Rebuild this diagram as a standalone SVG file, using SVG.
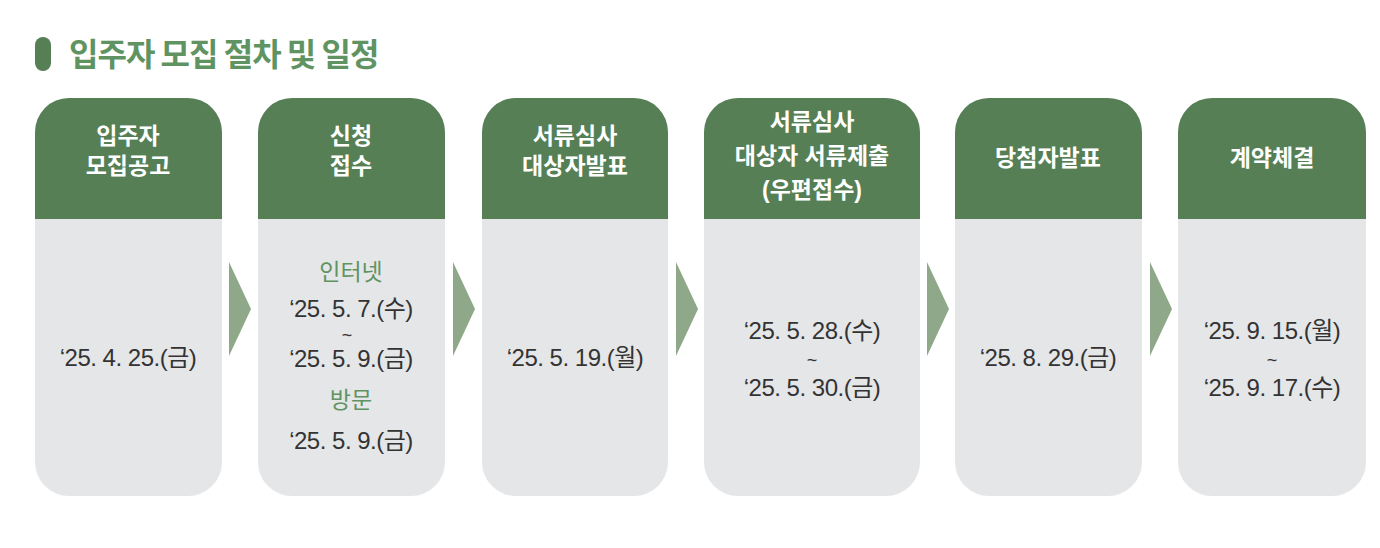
<svg xmlns="http://www.w3.org/2000/svg" width="1380" height="548" viewBox="0 0 1380 548">
<defs>
<style>
.hd{fill:#567f55}
.bd{fill:#e5e6e8}
.ar{fill:#8fa889}
.ht{font-family:"Liberation Sans","Noto Sans CJK KR",sans-serif;font-size:23px;font-weight:bold;fill:#fff;text-anchor:middle}
.dt{font-family:"Liberation Sans","Noto Sans CJK KR",sans-serif;font-size:24px;fill:#333;text-anchor:middle;letter-spacing:-0.5px}
.tl{font-family:"Liberation Sans","Noto Sans CJK KR",sans-serif;font-size:18px;fill:#333;text-anchor:middle}
.gt{font-family:"Liberation Sans","Noto Sans CJK KR",sans-serif;font-size:23px;fill:#5f9462;text-anchor:middle}
</style>
</defs>
<rect width="1380" height="548" fill="#fff"/>
<g id="title">
<rect x="35" y="37" width="16" height="34" rx="8" fill="#567f55"/>
<text x="69" y="66" font-family="'Noto Sans CJK KR',sans-serif" font-size="32" font-weight="bold" fill="#5f9462" letter-spacing="-1">입주자 모집 절차 및 일정</text>
</g>
<g id="n1">
<rect x="35" y="98" width="187" height="398" rx="34" class="bd"/>
<path d="M35 219V132a34 34 0 0 1 34-34h119a34 34 0 0 1 34 34v87z" class="hd"/>
<text x="128" y="144" class="ht">입주자</text><text x="128" y="174" class="ht">모집공고</text>
<text x="128" y="366" class="dt">‘25. 4. 25.(금)</text>
</g>
<g id="n2">
<rect x="258" y="98" width="187" height="398" rx="34" class="bd"/>
<path d="M258 219V132a34 34 0 0 1 34-34h119a34 34 0 0 1 34 34v87z" class="hd"/>
<text x="351" y="280" class="gt">인터넷</text>
<text x="351" y="144" class="ht">신청</text><text x="351" y="174" class="ht">접수</text>
<text x="351" y="317" class="dt">‘25. 5. 7.(수)</text>
<text x="347" y="341" class="tl">~</text>
<text x="351" y="367" class="dt">‘25. 5. 9.(금)</text>
<text x="351" y="408" class="gt">방문</text>
<text x="351" y="449" class="dt">‘25. 5. 9.(금)</text>
</g>
<g id="n3">
<rect x="482" y="98" width="186" height="398" rx="34" class="bd"/>
<path d="M482 219V132a34 34 0 0 1 34-34h118a34 34 0 0 1 34 34v87z" class="hd"/>
<text x="575" y="144" class="ht">서류심사</text><text x="575" y="174" class="ht">대상자발표</text>
<text x="575" y="366" class="dt">‘25. 5. 19.(월)</text>
</g>
<g id="n4">
<rect x="704" y="98" width="216" height="398" rx="34" class="bd"/>
<path d="M704 219V132a34 34 0 0 1 34-34h148a34 34 0 0 1 34 34v87z" class="hd"/>
<text x="812" y="130" class="ht">서류심사</text><text x="812" y="164" class="ht">대상자 서류제출</text><text x="812" y="198" class="ht">(우편접수)</text>
<text x="812" y="339" class="dt">‘25. 5. 28.(수)</text>
<text x="812" y="366" class="tl">~</text>
<text x="812" y="396" class="dt">‘25. 5. 30.(금)</text>
</g>
<g id="n5">
<rect x="955" y="98" width="187" height="398" rx="34" class="bd"/>
<path d="M955 219V132a34 34 0 0 1 34-34h119a34 34 0 0 1 34 34v87z" class="hd"/>
<text x="1048" y="166" class="ht">당첨자발표</text>
<text x="1048" y="366" class="dt">‘25. 8. 29.(금)</text>
</g>
<g id="n6">
<rect x="1178" y="98" width="188" height="398" rx="34" class="bd"/>
<path d="M1178 219V132a34 34 0 0 1 34-34h120a34 34 0 0 1 34 34v87z" class="hd"/>
<text x="1272" y="166" class="ht">계약체결</text>
<text x="1272" y="339" class="dt">‘25. 9. 15.(월)</text>
<text x="1272" y="366" class="tl">~</text>
<text x="1272" y="396" class="dt">‘25. 9. 17.(수)</text>
</g>
<g id="connectors">
<path d="M229 262L251 309L229 356z" class="ar"/>
<path d="M453 262L475 309L453 356z" class="ar"/>
<path d="M676 262L698 309L676 356z" class="ar"/>
<path d="M927 262L949 309L927 356z" class="ar"/>
<path d="M1150 262L1172 309L1150 356z" class="ar"/>
</g>
</svg>
